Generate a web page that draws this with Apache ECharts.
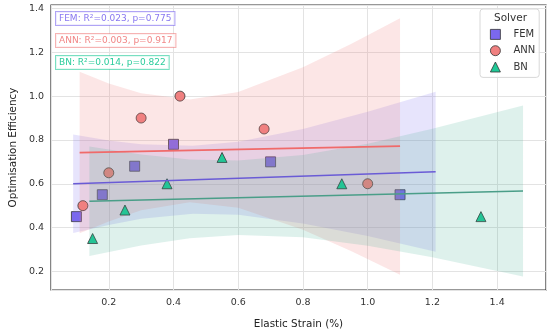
<!DOCTYPE html>
<html><head><meta charset="utf-8">
<script src="https://cdn.jsdelivr.net/npm/echarts@6/dist/echarts.min.js"></script>
<style>html,body{margin:0;padding:0;background:#fff}#c{width:550px;height:334px}</style>
</head><body><div id="c"></div>
<script>
// ---- data ----
const solvers = ['FEM', 'ANN', 'BN'];

const femX = [0.10, 0.18, 0.28, 0.40, 0.70, 1.10];
const femY = [0.45, 0.55, 0.68, 0.78, 0.70, 0.55];
const annX = [0.12, 0.20, 0.30, 0.42, 0.68, 1.00];
const annY = [0.50, 0.65, 0.90, 1.00, 0.85, 0.60];
const bnX  = [0.15, 0.25, 0.38, 0.55, 0.92, 1.35];
const bnY  = [0.35, 0.48, 0.60, 0.72, 0.60, 0.45];

// regression fit lines (end points)
const femFitX = [0.09, 1.21];
const femFitY = [0.600, 0.655];
const annFitX = [0.11, 1.10];
const annFitY = [0.742, 0.772];
const bnFitX  = [0.14, 1.48];
const bnFitY  = [0.520, 0.567];

// confidence bands
const femBandX  = [0.09, 0.20, 0.30, 0.46, 0.60, 0.80, 1.00, 1.21];
const femBandLo = [0.375, 0.412, 0.440, 0.463, 0.458, 0.419, 0.361, 0.290];
const femBandHi = [0.825, 0.798, 0.780, 0.773, 0.792, 0.850, 0.929, 1.020];
const annBandX  = [0.11, 0.20, 0.30, 0.45, 0.60, 0.80, 0.95, 1.10];
const annBandLo = [0.374, 0.428, 0.479, 0.516, 0.491, 0.390, 0.292, 0.185];
const annBandHi = [1.111, 1.058, 1.013, 0.985, 1.019, 1.132, 1.239, 1.355];
const bnBandX   = [0.14, 0.30, 0.45, 0.60, 0.80, 1.00, 1.20, 1.48];
const bnBandLo  = [0.270, 0.318, 0.351, 0.366, 0.356, 0.317, 0.264, 0.177];
const bnBandHi  = [0.770, 0.733, 0.711, 0.706, 0.731, 0.783, 0.851, 0.957];

const statTexts = ['FEM: R²=0.023, p=0.775', 'ANN: R²=0.003, p=0.917', 'BN: R²=0.014, p=0.822'];
const xTicks = [0.2, 0.4, 0.6, 0.8, 1.0, 1.2, 1.4];
const yTicks = [0.2, 0.4, 0.6, 0.8, 1.0, 1.2, 1.4];

// ---- styling ----
const FONT = 'DejaVu Sans';
const fill = {FEM: '#7b68ee', ANN: '#f08080', BN: '#20c997'};
const bandFill = {FEM: 'rgba(123,104,238,0.18)', ANN: 'rgba(240,128,128,0.2)', BN: 'rgba(60,170,140,0.17)'};
const lineCol = {FEM: '#6a5bd6', ANN: '#f06a6a', BN: '#4a9e88'};
const sym = {FEM: 'rect', ANN: 'circle', BN: 'triangle'};
const pts = {FEM: [femX, femY], ANN: [annX, annY], BN: [bnX, bnY]};
const fits = {FEM: [femFitX, femFitY], ANN: [annFitX, annFitY], BN: [bnFitX, bnFitY]};
const bands = {FEM: [femBandX, femBandLo, femBandHi], ANN: [annBandX, annBandLo, annBandHi], BN: [bnBandX, bnBandLo, bnBandHi]};

const series = [];
solvers.forEach((s, k) => {
  const [xs, ys] = pts[s];
  series.push({
    type: 'scatter', name: s, z: 2 + 2 * k, symbol: sym[s], symbolSize: 10,
    data: xs.map((x, i) => [x, ys[i]]),
    itemStyle: {color: fill[s], borderColor: '#333', borderWidth: 0.8, opacity: 1},
    emphasis: {disabled: true}
  });
  const [bx, lo, hi] = bands[s];
  series.push({
    type: 'custom', name: s + ' band', z: 3 + 2 * k, silent: true, clip: true,
    coordinateSystem: 'cartesian2d', data: [[bx[0], lo[0]]],
    renderItem: (params, api) => {
      const p = [];
      for (let i = 0; i < bx.length; i++) p.push(api.coord([bx[i], hi[i]]));
      for (let i = bx.length - 1; i >= 0; i--) p.push(api.coord([bx[i], lo[i]]));
      return {type: 'polygon', shape: {points: p}, style: {fill: bandFill[s], stroke: null}};
    }
  });
});
solvers.forEach((s) => {
  const [fx, fy] = fits[s];
  series.push({
    type: 'line', name: s + ' fit', z: 10, showSymbol: false, silent: true,
    data: fx.map((x, i) => [x, fy[i]]),
    lineStyle: {color: lineCol[s], width: 1.6}
  });
});

const isTick = (v, ticks) => ticks.some(t => Math.abs(t - v) < 1e-6);

const chart = echarts.init(document.getElementById('c'), null, {renderer: 'canvas'});
chart.setOption({
  animation: false,
  backgroundColor: '#fff',
  textStyle: {fontFamily: FONT},
  grid: {left: 49, right: 4, top: 5, bottom: 39, show: true, borderColor: '#333', borderWidth: 1.2, backgroundColor: '#fff'},
  xAxis: {
    type: 'value', min: 0.0215, max: 1.551, splitNumber: 7,
    axisLine: {show: false}, axisTick: {show: false},
    axisLabel: {fontSize: 9.5, color: '#333', margin: 8, fontFamily: FONT,
      formatter: v => isTick(v, xTicks) ? v.toFixed(1) : ''},
    splitLine: {lineStyle: {color: '#e3e3e3', width: 1}},
    name: 'Elastic Strain (%)', nameLocation: 'middle', nameGap: 29,
    nameTextStyle: {fontSize: 10.4, color: '#222', fontFamily: FONT}
  },
  yAxis: {
    type: 'value', min: 0.115, max: 1.416, splitNumber: 6,
    axisLine: {show: false}, axisTick: {show: false},
    axisLabel: {fontSize: 9.5, color: '#333', margin: 7, fontFamily: FONT,
      formatter: v => isTick(v, yTicks) ? v.toFixed(1) : ''},
    splitLine: {lineStyle: {color: '#e3e3e3', width: 1}},
    name: 'Optimisation Efficiency', nameLocation: 'middle', nameGap: 32,
    nameTextStyle: {fontSize: 10.4, color: '#222', fontFamily: FONT}
  },
  legend: {
    data: solvers, orient: 'vertical', left: 480, top: 9,
    padding: [20, 4, 5, 10], itemGap: 5.5, itemWidth: 10, itemHeight: 10,
    itemStyle: {borderColor: '#333', borderWidth: 0.8},
    backgroundColor: 'rgba(255,255,255,0.85)', borderColor: '#d8d8d8', borderWidth: 1, borderRadius: 3,
    textStyle: {fontSize: 10, color: '#333', fontFamily: FONT, padding: [0, 0, 0, 8]},
    selectedMode: false
  },
  graphic: [
    {type: 'text', left: 494, top: 13, z: 100, style: {text: 'Solver', font: '10.5px ' + FONT, fill: '#333'}},
    {type: 'text', left: 55, top: 11, z: 100, style: {text: statTexts[0], font: '9px ' + FONT, fill: 'rgba(123,104,238,0.9)',
      backgroundColor: 'rgba(255,255,255,0.8)', borderColor: 'rgba(123,104,238,0.6)', borderWidth: 1, padding: [2, 3, 2, 3]}},
    {type: 'text', left: 55, top: 33, z: 100, style: {text: statTexts[1], font: '9px ' + FONT, fill: 'rgba(240,128,128,0.95)',
      backgroundColor: 'rgba(255,255,255,0.8)', borderColor: 'rgba(240,128,128,0.6)', borderWidth: 1, padding: [2, 3, 2, 3]}},
    {type: 'text', left: 55, top: 55, z: 100, style: {text: statTexts[2], font: '9px ' + FONT, fill: 'rgba(32,201,151,0.95)',
      backgroundColor: 'rgba(255,255,255,0.8)', borderColor: 'rgba(32,201,151,0.6)', borderWidth: 1, padding: [2, 3, 2, 3]}}
  ],
  series: series
});
</script>
</body></html>
